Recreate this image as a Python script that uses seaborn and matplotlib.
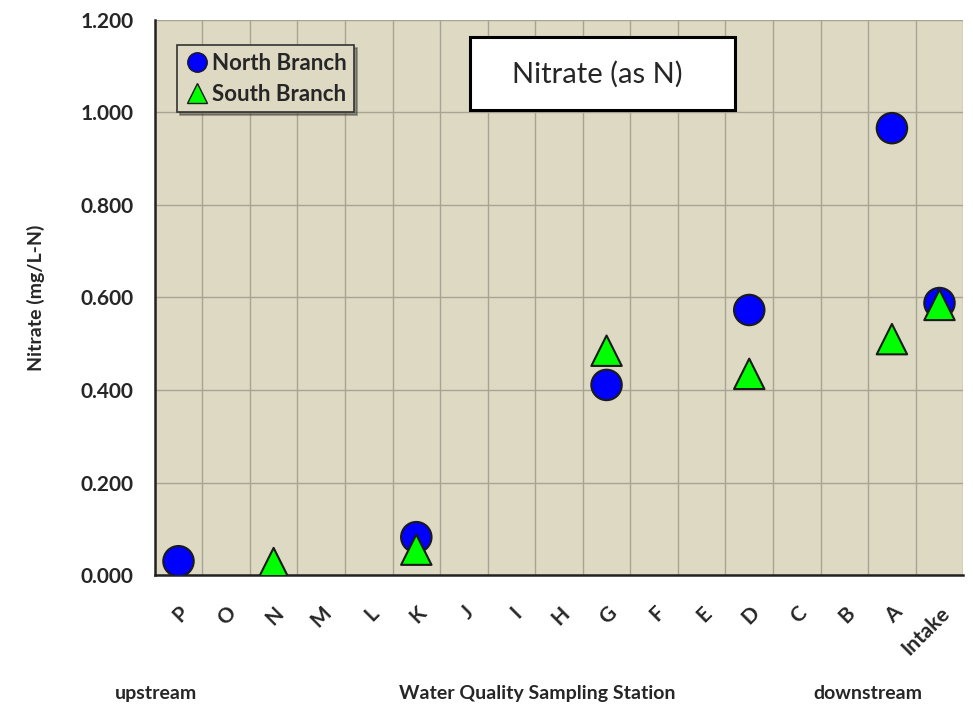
import matplotlib
matplotlib.use("Agg")
import matplotlib.pyplot as plt
import pandas as pd
import seaborn as sns
from matplotlib.lines import Line2D
from matplotlib.patches import Rectangle

stations = ["P", "O", "N", "M", "L", "K", "J", "I", "H", "G", "F", "E", "D", "C", "B", "A", "Intake"]

north_stations = ["P", "K", "G", "D", "A", "Intake"]
north_values = [0.030, 0.082, 0.411, 0.573, 0.966, 0.588]
south_stations = ["N", "K", "G", "D", "A", "Intake"]
south_values = [0.026, 0.055, 0.485, 0.435, 0.510, 0.584]

y_ticks = [0.0, 0.2, 0.4, 0.6, 0.8, 1.0, 1.2]

df = pd.concat([
    pd.DataFrame({"station": north_stations, "nitrate": north_values, "branch": "North Branch"}),
    pd.DataFrame({"station": south_stations, "nitrate": south_values, "branch": "South Branch"}),
])
df["pos"] = df["station"].map({s: i for i, s in enumerate(stations)})

sns.set_style("white")
plt.rcParams["font.family"] = ["Lato", "DejaVu Sans"]

fig = plt.figure(figsize=(9.73, 7.10), dpi=100)
ax = fig.add_axes([0.159, 0.190, 0.831, 0.782])
ax.set_facecolor("#DDD9C3")

sns.scatterplot(
    data=df, x="pos", y="nitrate", hue="branch", style="branch",
    palette={"North Branch": "#0000FF", "South Branch": "#00FF00"},
    markers={"North Branch": "o", "South Branch": "^"},
    s=480, edgecolor="#1a1a1a", linewidth=1.5, ax=ax, zorder=3, legend=False,
)

n = len(stations)
ax.set_xlim(-0.5, n - 0.5)
ax.set_ylim(0, 1.2)
ax.set_yticks(y_ticks)
ax.set_yticklabels([f"{v:.3f}" for v in y_ticks], fontsize=15, fontweight="bold")
ax.set_xticks(range(n))
ax.set_xticklabels(stations, rotation=45, fontsize=15, fontweight="bold",
                   ha="right", va="top", rotation_mode="anchor")
# shift the rotated labels so they sit under their category centres
for lbl in ax.get_xticklabels():
    lbl.set_transform(lbl.get_transform() + matplotlib.transforms.ScaledTranslation(0.1, 0, fig.dpi_scale_trans))
ax.set_xticks([i + 0.5 for i in range(-1, n)], minor=True)
ax.tick_params(axis="x", which="major", length=0, pad=20)
ax.tick_params(axis="x", which="minor", length=7, width=1.3, color="#222222", direction="out")
ax.tick_params(axis="y", length=7, width=1.3, color="#222222", direction="out", pad=8)
ax.grid(True, axis="x", which="minor", color="#a8a493", linewidth=1)
ax.grid(True, axis="y", which="major", color="#a8a493", linewidth=1)
ax.set_axisbelow(True)
for side in ["top", "right"]:
    ax.spines[side].set_visible(False)
for side in ["left", "bottom"]:
    ax.spines[side].set_color("#222222")
    ax.spines[side].set_linewidth(1.8)

ax.set_xlabel("")
ax.set_ylabel("Nitrate (mg/L-N)", fontsize=14, fontweight="bold", labelpad=26)

fig.text(0.160, 0.015, "upstream", fontsize=14, fontweight="bold", ha="center")
fig.text(0.552, 0.015, "Water Quality Sampling Station", fontsize=14, fontweight="bold", ha="center")
fig.text(0.892, 0.015, "downstream", fontsize=14, fontweight="bold", ha="center")

fig.patches.append(Rectangle((0.483, 0.845), 0.272, 0.103, transform=fig.transFigure,
                             facecolor="white", edgecolor="black", linewidth=2.2, zorder=5))
fig.text(0.614, 0.896, "Nitrate (as N)", fontsize=21, ha="center", va="center", zorder=6)

handles = [
    Line2D([], [], marker="o", linestyle="", markersize=14, markerfacecolor="#0000FF", markeredgecolor="#1a1a1a"),
    Line2D([], [], marker="^", linestyle="", markersize=14, markerfacecolor="#00FF00", markeredgecolor="#1a1a1a"),
]
leg = ax.legend(handles, ["North Branch", "South Branch"], loc="upper left",
                bbox_to_anchor=(0.028, 0.955), frameon=True, fancybox=False, shadow=True,
                prop={"family": ["Lato", "DejaVu Sans"], "weight": "bold", "size": 16},
                handletextpad=0.1, borderpad=0.35, labelspacing=0.45, handlelength=1.1,
                borderaxespad=0)
leg.get_frame().set_facecolor("#DDD9C3")
leg.get_frame().set_edgecolor("#333333")
leg.get_frame().set_linewidth(1.2)

fig.savefig("out.png", dpi=100)
